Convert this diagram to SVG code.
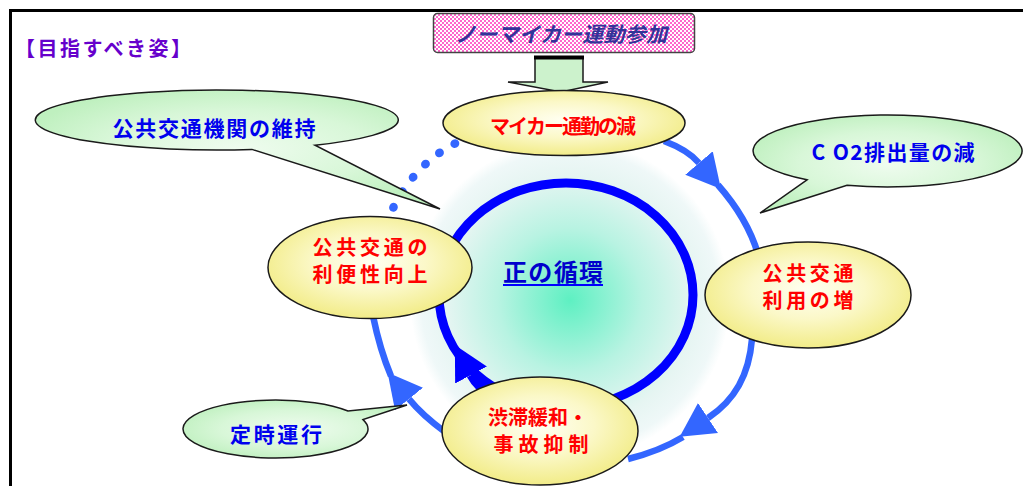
<svg xmlns="http://www.w3.org/2000/svg" width="1023" height="486" viewBox="0 0 1023 486">
<defs>
<radialGradient id="halo" cx="570" cy="300" r="160" gradientUnits="userSpaceOnUse">
<stop offset="0" stop-color="#5ef0c2"/>
<stop offset="0.45" stop-color="#b8f3e2"/>
<stop offset="0.78" stop-color="#e6f5f2"/>
<stop offset="0.93" stop-color="#eff8f8"/>
<stop offset="1" stop-color="#ffffff"/>
</radialGradient>
<radialGradient id="yel" cx="0.5" cy="0.45" r="0.55">
<stop offset="0" stop-color="#fffff2"/>
<stop offset="0.5" stop-color="#fbf8c8"/>
<stop offset="1" stop-color="#f2ec88"/>
</radialGradient>
<radialGradient id="grn" cx="0.5" cy="0.5" r="0.55">
<stop offset="0" stop-color="#effcef"/>
<stop offset="0.6" stop-color="#d8f7d8"/>
<stop offset="1" stop-color="#bff0bf"/>
</radialGradient>
<pattern id="check" width="4" height="4" patternUnits="userSpaceOnUse">
<rect width="4" height="4" fill="#ffffff"/>
<rect width="2" height="2" fill="#ff66cc"/>
<rect x="2" y="2" width="2" height="2" fill="#ff66cc"/>
</pattern>
<marker id="ah" markerUnits="userSpaceOnUse" viewBox="0 -20 36 40" refX="0" refY="0" markerWidth="36" markerHeight="40" orient="auto">
<path d="M0,-18 L34,0 L0,18 Z" fill="#3366ff"/>
</marker>
<marker id="ahRing" markerUnits="userSpaceOnUse" viewBox="0 -20 36 40" refX="0" refY="0" markerWidth="36" markerHeight="40" orient="auto">
<path d="M0,-18 L34,0 L0,18 Z" fill="#0000ff"/>
</marker>
</defs>
<style>
text { font-family: "Noto Sans CJK JP", "Noto Sans CJK SC", sans-serif; font-weight: bold; }
.yel { fill: url(#yel); stroke: #1a1a1a; stroke-width: 1.5; }
.grn { fill: url(#grn); stroke: #1a1a1a; stroke-width: 1.5; }
.red { fill: #ff0000; font-size: 20px; }
.blu { fill: #0000ee; font-size: 21px; }
.arc { fill: none; stroke: #3366ff; stroke-width: 6.5; }
</style>

<rect width="1023" height="486" fill="#ffffff"/>
<path d="M10.5 486 V10.5 H1023" fill="none" stroke="#000000" stroke-width="3"/>

<text x="103" y="47" text-anchor="middle" dominant-baseline="central" fill="#6600cc" font-size="20" textLength="176" lengthAdjust="spacing">【目指すべき姿】</text>

<g id="cycle">
<circle cx="570" cy="300" r="160" fill="url(#halo)"/>
<ellipse cx="566" cy="295" rx="127" ry="112" fill="none" stroke="#0000ff" stroke-width="9"/>
<text x="553" y="270" text-anchor="middle" dominant-baseline="central" fill="#0000cc" font-size="24" textLength="100" lengthAdjust="spacing">正の循環</text>
<line x1="503" y1="285" x2="603" y2="285" stroke="#0000ff" stroke-width="2"/>
</g>

<g id="connectors">
<path class="arc" d="M664 141 Q688 150 699 163" marker-end="url(#ah)"/>
<path class="arc" d="M718 185 C733 202 749 224 758 254"/>
<path class="arc" d="M752 339 C749 375 735 400 708 418" marker-end="url(#ah)"/>
<path class="arc" d="M683 437 Q660 451 628 459"/>
<path class="arc" d="M445 432 Q422 415 409 399" marker-end="url(#ah)"/>
<path class="arc" d="M391 376 Q380 350 373 316"/>
<path d="M386 224 Q412 158 472 136" fill="none" stroke="#3366ff" stroke-width="8.5" stroke-linecap="round" stroke-dasharray="0.5 17.5"/>
<path d="M494 397 Q478 388 471 375" fill="none" stroke="#0000ff" stroke-width="9" marker-end="url(#ahRing)"/>
</g>

<g id="top-box">
<rect x="433.5" y="13.5" width="261" height="39" rx="4" fill="url(#check)" stroke="#444444" stroke-width="1.5"/>
<text x="561" y="33" text-anchor="middle" dominant-baseline="central" fill="#333399" font-size="21" font-style="italic" textLength="212" lengthAdjust="spacing">ノーマイカー運動参加</text>
</g>

<g id="block-arrow">
<polygon points="535,57 583,57 583,82 608,82 561,92 508,82 535,82" fill="#ccf2cc" stroke="#1a1a1a" stroke-width="1.5"/>
<line x1="534" y1="57.5" x2="584" y2="57.5" stroke="#000000" stroke-width="4"/>
</g>

<g id="node-mycar">
<ellipse class="yel" cx="564" cy="123" rx="121" ry="32.5"/>
<text class="red" x="563" y="125" text-anchor="middle" dominant-baseline="central" font-size="19" textLength="146" lengthAdjust="spacing">マイカー通勤の減</text>
</g>

<g id="node-riyou">
<ellipse class="yel" cx="808" cy="295" rx="103" ry="53"/>
<text class="red" text-anchor="middle" dominant-baseline="central"><tspan x="808" y="272" textLength="91" lengthAdjust="spacing">公共交通</tspan><tspan x="808" y="299" textLength="91" lengthAdjust="spacing">利用の増</tspan></text>
</g>

<g id="node-juutai">
<ellipse class="yel" cx="540" cy="431" rx="98" ry="54"/>
<text class="red" text-anchor="middle" dominant-baseline="central"><tspan x="538" y="416" textLength="100" lengthAdjust="spacing">渋滞緩和・</tspan><tspan x="541" y="443" textLength="95" lengthAdjust="spacing">事故抑制</tspan></text>
</g>

<g id="node-benri">
<ellipse class="yel" cx="370" cy="267.5" rx="102" ry="51"/>
<text class="red" text-anchor="middle" dominant-baseline="central"><tspan x="370" y="246" textLength="115" lengthAdjust="spacing">公共交通の</tspan><tspan x="370" y="273" textLength="115" lengthAdjust="spacing">利便性向上</tspan></text>
</g>

<g id="callout-iji">
<path class="grn" d="M252 149.4 A181.5 30 0 1 1 315 145.2 L440 209 Z"/>
<text class="blu" x="214" y="127" text-anchor="middle" dominant-baseline="central" textLength="203" lengthAdjust="spacing">公共交通機関の維持</text>
</g>

<g id="callout-co2">
<path class="grn" d="M807 179.8 A134.5 36 0 1 1 847 185.3 L760 213 Z"/>
<text class="blu" x="893" y="151" text-anchor="middle" dominant-baseline="central" textLength="163" lengthAdjust="spacing">C O2排出量の減</text>
</g>

<g id="callout-teiji">
<path class="grn" d="M363 419.6 A92.5 29 0 1 1 348 411 L407 405 Z"/>
<text class="blu" x="276" y="433" text-anchor="middle" dominant-baseline="central" textLength="92" lengthAdjust="spacing">定時運行</text>
</g>
</svg>
